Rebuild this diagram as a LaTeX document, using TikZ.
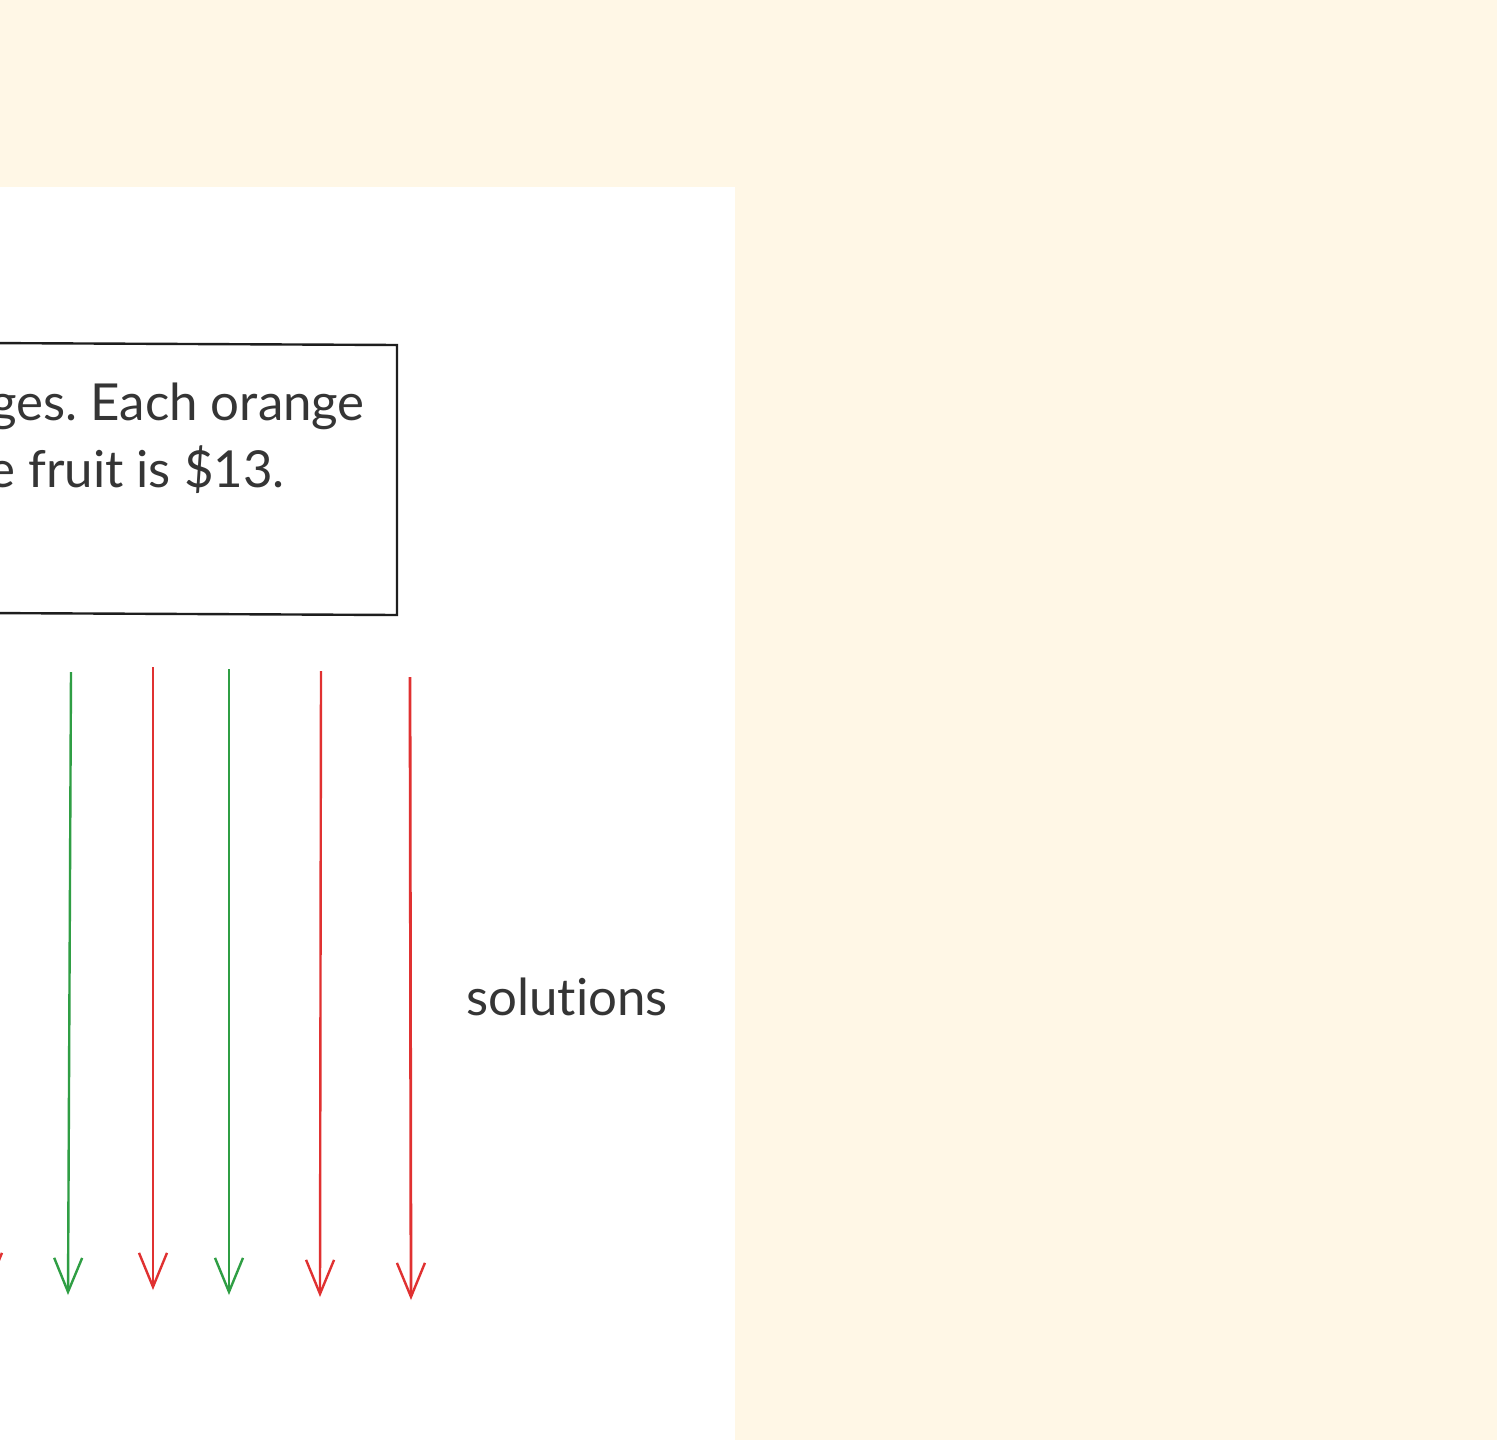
\documentclass[tikz,border=0pt]{standalone}
\usepackage{fontspec}
\setmainfont[Ligatures=NoCommon]{Lato}
\usetikzlibrary{arrows.meta}
\definecolor{cream}{HTML}{FFF7E6}
\definecolor{exgreen}{HTML}{2F9E44}
\definecolor{exred}{HTML}{E03131}
\definecolor{exdark}{HTML}{1E1E1E}
\begin{document}
\begin{tikzpicture}[x=1pt,y=-1pt,
  txt/.style={font=\fontsize{51}{60}\selectfont\frenchspacing, text=exdark!90, inner sep=0pt},
  arr/.style={line width=2.4pt, -{Straight Barb[length=34pt,width=28pt,line width=2.4pt]}},
  garr/.style={arr, draw=exgreen},
  rarr/.style={arr, draw=exred}]
\useasboundingbox (0,0) rectangle (1497,1440);
\fill[cream] (0,0) rectangle (1497,1440);
\fill[white] (0,187) rectangle (735,1440);
% problem box
\draw[exdark, line width=2.4pt] (-20,343) -- (397,345) -- (397,615) -- (-20,613);
\node[txt, anchor=base east] (l1) at (365,420) {ges. Each orange};
\node[txt, anchor=base east] (l2) at (285,487) {e fruit is \$13.};
% arrows
\coordinate (s0) at (-12,668); \coordinate (e0) at (-12,1290);
\coordinate (s1) at (71,672);  \coordinate (e1) at (68,1295);
\coordinate (s2) at (153,667); \coordinate (e2) at (153,1290);
\coordinate (s3) at (229,669); \coordinate (e3) at (229,1295);
\coordinate (s4) at (321,671); \coordinate (e4) at (320,1297);
\coordinate (s5) at (410,677); \coordinate (e5) at (411,1300);
\draw[rarr] (s0) -- (e0);
\draw[garr] (s1) -- (e1);
\draw[rarr] (s2) -- (e2);
\draw[garr] (s3) -- (e3);
\draw[rarr] (s4) -- (e4);
\draw[rarr, line width=2.8pt] (s5) -- (e5);
\node[txt, anchor=base west] (sol) at (466,1015) {solutions};
\end{tikzpicture}
\end{document}
